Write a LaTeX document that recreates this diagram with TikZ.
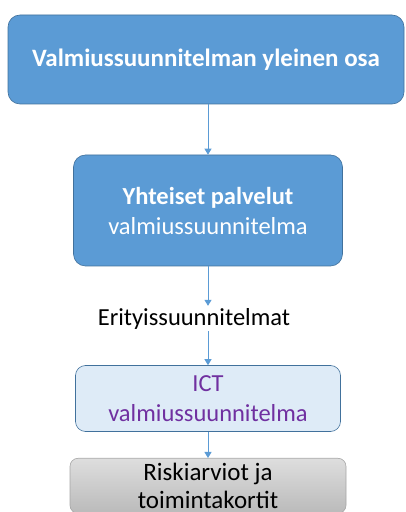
\documentclass[tikz,border=0pt]{standalone}
\usepackage{fontspec}
\setmainfont{Carlito}
\usetikzlibrary{arrows.meta,positioning}

\definecolor{plblue}{HTML}{5B9BD5}
\definecolor{plborder}{HTML}{41719C}
\definecolor{pllight}{HTML}{DEEBF7}
\definecolor{plpurple}{HTML}{7030A0}

\begin{document}
\begin{tikzpicture}[x=1pt,y=1pt,>={Triangle[width=7pt,length=6pt]},
    link/.style={->,draw=plblue,line width=1pt},
    main box/.style={rectangle,rounded corners=12pt,draw=plborder,fill=plblue,
                     text=white,align=center,inner sep=0pt,line width=0.6pt},
    ict box/.style={rectangle,rounded corners=10pt,draw=plborder,fill=pllight,
                    text=plpurple,align=center,inner sep=0pt,line width=0.6pt,
                    font=\fontsize{24.5}{30}\selectfont},
    risk box/.style={rectangle,rounded corners=8pt,draw=black!35,top color=black!13,
                     bottom color=black!27,align=center,inner sep=0pt,line width=0.6pt,
                     font=\fontsize{25}{27.5}\selectfont}]

    \clip (0,0) rectangle (406,512);

    \node[main box,minimum width=396pt,minimum height=89pt,
          font=\bfseries\fontsize{25}{30}\selectfont] (general) at (206,452.5)
          {Valmiussuunnitelman yleinen osa};
    \node[main box,minimum width=269pt,minimum height=111pt,
          font=\fontsize{24.5}{30}\selectfont] (common) at (208,301.5)
          {\textbf{\fontsize{24.5}{30}\selectfont Yhteiset palvelut}\\valmiussuunnitelma};
    \node[font=\fontsize{24.5}{28}\selectfont,inner sep=2pt] (special) at (194,193.5)
          {Erityissuunnitelmat};
    \node[ict box,minimum width=265pt,minimum height=66pt] (ict) at (208,113.5)
          {ICT\\valmiussuunnitelma};
    \node[risk box,minimum width=276pt,minimum height=55pt,anchor=north] (risk) at (208,54)
          {Riskiarviot ja\\toimintakortit};

    \draw[link] (general.south -| common.north) -- (common.north);
    \draw[link] (common.south) -- (common.south |- special.north);
    \draw[link] (ict.north |- special.south) -- (ict.north);
    \draw[link] (ict.south) -- (risk.north);
\end{tikzpicture}
\end{document}
